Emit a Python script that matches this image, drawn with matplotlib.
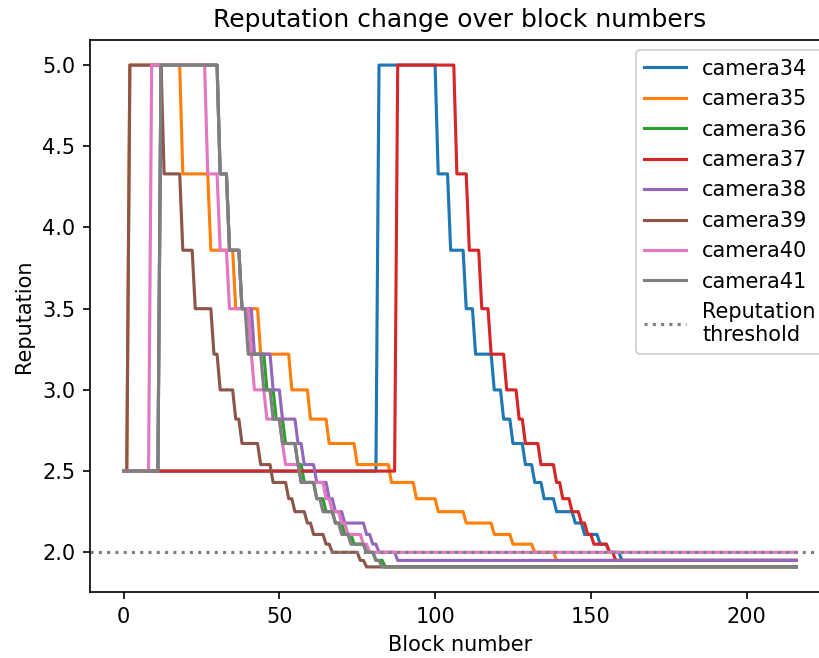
import matplotlib
matplotlib.use('Agg')
import matplotlib.pyplot as plt

# Niveles de reputacion que aparecen en la grafica
levels = [2.5, 5.0, 4.33, 3.86, 3.5, 3.22, 3.0, 2.82, 2.67, 2.54, 2.43,
          2.33, 2.25, 2.18, 2.11, 2.05, 2.0, 1.95, 1.91]

# Bloque en el que cada camara entra en cada nivel (mismo orden que levels)
camera34_steps = [0, 82, 101, 105, 110, 113, 119, 122, 125, 129, 132, 135, 139, 145, 148, 153, 156, 160]
camera35_steps = [0, 2, 19, 28, 36, 44, 54, 60, 66, 75, 86, 94, 101, 110, 119, 125, 132, 139]
camera36_steps = [0, 12, 31, 34, 38, 41, 46, 49, 52, 56, 58, 62, 65, 68, 71, 74, 78, 81, 84]
camera37_steps = [0, 88, 107, 111, 115, 118, 123, 127, 129, 134, 139, 141, 144, 147, 149, 151, 156, 158]
camera38_steps = [0, 12, 31, 34, 38, 42, 48, 51, 56, 58, 62, 66, 68, 71, 78, 80, 82, 88]
camera39_steps = [0, 2, 13, 19, 23, 29, 31, 36, 38, 44, 48, 53, 55, 59, 61, 65, 67, 76, 78]
camera40_steps = [0, 9, 27, 31, 34, 41, 42, 46, 51, 52, 57, 65, 67, 70, 72, 77, 79]
camera41_steps = [0, 12, 31, 34, 38, 40, 45, 48, 51, 56, 57, 62, 64, 68, 70, 73, 78, 81, 83]

last_block = 216
threshold = 2.0

cameras = ['camera34', 'camera35', 'camera36', 'camera37',
           'camera38', 'camera39', 'camera40', 'camera41']
all_steps = [camera34_steps, camera35_steps, camera36_steps, camera37_steps,
             camera38_steps, camera39_steps, camera40_steps, camera41_steps]

blocks = list(range(last_block + 1))

fig = plt.figure(figsize=(819 / 150, 658 / 150), dpi=150)
ax = fig.add_axes([90 / 819, 66 / 658, 740 / 819, 552 / 658])

for name, steps in zip(cameras, all_steps):
    rep = []
    i = 0
    for b in blocks:
        while i + 1 < len(steps) and steps[i + 1] <= b:
            i += 1
        rep.append(levels[i])
    ax.plot(blocks, rep, label=name)

ax.axhline(threshold, color='gray', linestyle=':', label='Reputation\nthreshold')

ax.set_xlabel('Block number')
ax.set_ylabel('Reputation')
ax.set_title('Reputation change over block numbers')
ax.legend(loc='upper right', bbox_to_anchor=(1.006, 1.0))

fig.savefig('out.png', dpi=150)
